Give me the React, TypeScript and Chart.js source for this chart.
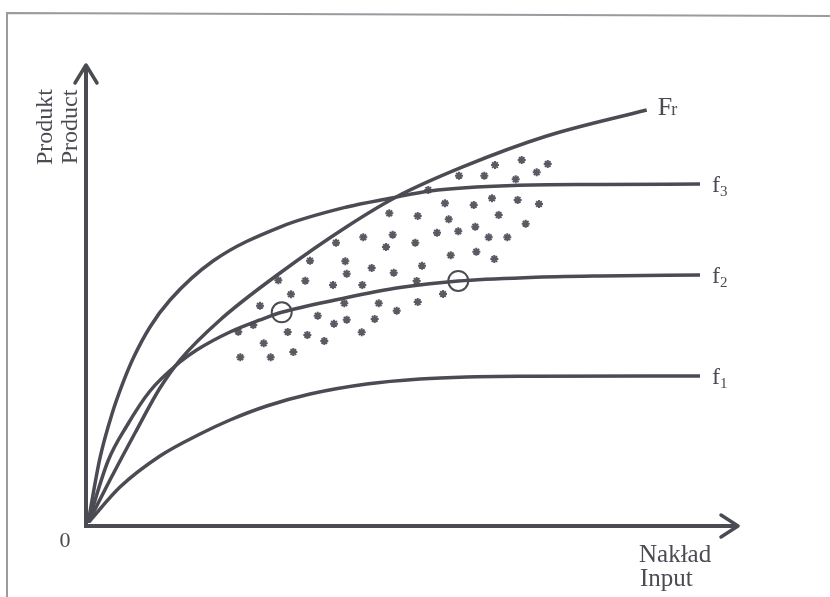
import React, { useEffect, useRef } from "react";
import { Chart, registerables } from "chart.js";

Chart.register(...registerables);

// Axis ranges (abstract units: input on x, product on y)
const X_MAX = 100;
const Y_MAX = 100;

// Production curves (input, product)
const f1X = [0, 4.91, 11.04, 17.18, 21.78, 27.41, 34.05, 42.75, 50.92, 58.08, 67.79, 93.87];
const f1Y = [0, 7.91, 14.73, 19.56, 22.64, 25.71, 28.35, 30.55, 31.65, 32.09, 32.24, 32.31];

const f2X = [0, 3.07, 5.94, 9.51, 14.11, 16.67, 21.78, 26.38, 29.71, 38.65, 47.85, 56.79, 67.79, 78.53, 93.87];
const f2Y = [0, 13.63, 21.32, 29.01, 35.38, 38.02, 41.98, 44.62, 46.31, 49.23, 51.76, 53.19, 53.96, 54.29, 54.51];

const f3X = [0, 1.84, 3.68, 5.41, 6.95, 9.51, 12.58, 19.17, 29.45, 39.68, 46.32, 52.45, 65.18, 78.53, 93.87];
const f3Y = [0, 14.29, 23.96, 30.99, 36.26, 43.08, 49.01, 57.58, 65.05, 69.45, 71.36, 72.97, 74.18, 74.4, 74.51];

const frX = [0, 3.37, 7.21, 11.04, 14.11, 20.25, 29.45, 39.68, 47.35, 57.56, 70.35, 85.69];
const frY = [0, 9.45, 19.78, 29.67, 35.82, 44.62, 54.95, 65.12, 71.71, 78.31, 85.05, 90.77];

// Observed farms (scatter of stars)
const obsX = [
  66.52, 70.51, 62.42, 68.82, 56.9, 60.78, 65.6, 52.19, 61.96, 65.9, 69.17, 54.75, 59.16,
  46.21, 50.57, 62.99, 55.32, 67.13, 59.4, 56.79, 53.53, 46.73, 42.22, 61.46, 64.31, 38.04,
  50.2, 45.71, 59.56, 55.63, 62.32, 34.05, 39.46, 51.23, 43.51, 39.68, 46.89, 29.19, 33.33,
  50.41, 37.58, 42.07, 31.13, 54.45, 39.31, 44.59, 50.57, 26.38, 47.35, 35.23, 39.68, 43.97,
  37.73, 23.05, 25.35, 30.63, 33.64, 41.98, 36.24, 26.95, 31.49, 23.36, 28.02,
];
const obsY = [
  79.78, 78.9, 78.68, 77.08, 76.33, 76.33, 75.54, 73.19, 71.36, 70.99, 70.11, 70.26, 69.89,
  68.07, 67.47, 67.69, 66.75, 65.78, 65.12, 64.11, 63.8, 63.36, 62.79, 62.79, 62.79, 61.6,
  61.6, 60.66, 59.63, 58.84, 58.02, 57.65, 57.52, 56.55, 56.04, 54.79, 55.01, 53.34, 53.25,
  53.19, 52.31, 52.31, 50.26, 50.33, 48.29, 48.29, 48.57, 47.76, 46.66, 45.56, 44.68, 44.84,
  43.8, 42.04, 43.52, 41.98, 41.32, 41.91, 40.0, 39.49, 37.58, 36.42, 36.42,
];

// Highlighted points on f2
const markX = [29.71, 56.79];
const markY = [46.31, 53.19];

// Text
const curveLabels = ["f", "f", "f"];
const curveSubs = ["3", "2", "1"];
const frameLabel = ["F", "r"];
const yTitle = ["Produkt", "Product"];
const xTitle = ["Nakład", "Input"];
const originLabel = "0";

const INK = "#4b4b53";
const SERIF = "'Liberation Serif', 'DejaVu Serif', serif";

const zip = (xs: number[], ys: number[]) => xs.map((x, i) => ({ x, y: ys[i] }));

const lineDs = (xs: number[], ys: number[]) => ({
  data: zip(xs, ys),
  showLine: true,
  borderColor: INK,
  borderWidth: 3.5,
  pointRadius: 0,
  pointHoverRadius: 0,
  cubicInterpolationMode: "monotone" as const,
  fill: false,
});

const decorPlugin = {
  id: "decor",
  beforeDraw(chart: any) {
    const { ctx, width, height } = chart;
    ctx.save();
    ctx.fillStyle = "#ffffff";
    ctx.fillRect(0, 0, width, height);
    // scan frame
    ctx.strokeStyle = "#9a9aa0";
    ctx.lineWidth = 2;
    ctx.beginPath();
    ctx.moveTo(7, height);
    ctx.lineTo(7, 13);
    ctx.lineTo(width, 16);
    ctx.stroke();
    ctx.restore();
  },
  afterDraw(chart: any) {
    const { ctx, chartArea } = chart;
    const xs = chart.scales.x;
    const ys = chart.scales.y;
    const ox = xs.getPixelForValue(0) - 2;
    const oy = ys.getPixelForValue(0) + 3;
    const xTip = chartArea.right - 2;
    const yTip = chartArea.top - 3;
    ctx.save();
    ctx.strokeStyle = INK;
    ctx.lineWidth = 4;
    ctx.lineCap = "butt";
    ctx.beginPath();
    ctx.moveTo(ox - 2, oy);
    ctx.lineTo(xTip, oy);
    ctx.moveTo(ox, oy + 2);
    ctx.lineTo(ox, yTip);
    ctx.stroke();
    // arrowheads
    ctx.lineWidth = 3.5;
    ctx.lineCap = "round";
    ctx.lineJoin = "round";
    ctx.beginPath();
    ctx.moveTo(xTip - 17, oy - 11);
    ctx.lineTo(xTip, oy);
    ctx.lineTo(xTip - 17, oy + 11);
    ctx.moveTo(ox - 11, yTip + 18);
    ctx.lineTo(ox, yTip);
    ctx.lineTo(ox + 11, yTip + 18);
    ctx.stroke();

    ctx.fillStyle = INK;
    // origin
    ctx.font = `22px ${SERIF}`;
    ctx.textAlign = "center";
    ctx.textBaseline = "alphabetic";
    ctx.fillText(originLabel, ox - 21, oy + 21);

    // x title
    ctx.font = `25px ${SERIF}`;
    ctx.textAlign = "left";
    ctx.fillText(xTitle[0], 639, 562);
    ctx.fillText(xTitle[1], 640, 586);

    // y title (rotated)
    ctx.font = `24px ${SERIF}`;
    ctx.textAlign = "center";
    ctx.save();
    ctx.translate(52, 127);
    ctx.rotate(-Math.PI / 2);
    ctx.fillText(yTitle[0], 0, 0);
    ctx.restore();
    ctx.save();
    ctx.translate(77, 127);
    ctx.rotate(-Math.PI / 2);
    ctx.fillText(yTitle[1], 0, 0);
    ctx.restore();

    // curve labels
    ctx.textAlign = "left";
    const ends = [
      [f3X[f3X.length - 1], f3Y[f3Y.length - 1]],
      [f2X[f2X.length - 1], f2Y[f2Y.length - 1]],
      [f1X[f1X.length - 1], f1Y[f1Y.length - 1]],
    ];
    ends.forEach(([vx, vy], i) => {
      const px = xs.getPixelForValue(vx) + 12;
      const py = ys.getPixelForValue(vy);
      ctx.font = `24px ${SERIF}`;
      ctx.fillText(curveLabels[i], px, py + 8);
      ctx.font = `15px ${SERIF}`;
      ctx.fillText(curveSubs[i], px + 8, py + 12);
    });
    const fx = xs.getPixelForValue(frX[frX.length - 1]) + 11;
    const fy = ys.getPixelForValue(frY[frY.length - 1]) + 5;
    ctx.font = `26px ${SERIF}`;
    ctx.fillText(frameLabel[0], fx, fy);
    const fw = ctx.measureText(frameLabel[0]).width;
    ctx.font = `18px ${SERIF}`;
    ctx.fillText(frameLabel[1], fx + fw - 1, fy);
    ctx.restore();
  },
};

export default function App() {
  const ref = useRef<HTMLCanvasElement | null>(null);
  useEffect(() => {
    document.body.style.margin = "0";
    const canvas = ref.current;
    if (!canvas) return;
    const chart = new Chart(canvas, {
      type: "scatter",
      data: {
        datasets: [
          lineDs(frX, frY),
          lineDs(f3X, f3Y),
          lineDs(f2X, f2Y),
          lineDs(f1X, f1Y),
          {
            data: zip(obsX, obsY),
            showLine: false,
            pointStyle: "star",
            pointRadius: 4,
            borderWidth: 2,
            borderColor: "#5a5a62",
            backgroundColor: "#5a5a62",
          },
          {
            data: zip(markX, markY),
            showLine: false,
            pointStyle: "circle",
            pointRadius: 10,
            borderWidth: 2,
            borderColor: INK,
            backgroundColor: "rgba(0,0,0,0)",
          },
        ] as any,
      },
      options: {
        animation: false,
        responsive: false,
        maintainAspectRatio: false,
        events: [],
        layout: { padding: { left: 88, right: 90, top: 68, bottom: 74 } },
        plugins: { legend: { display: false }, tooltip: { enabled: false }, title: { display: false } },
        scales: {
          x: { type: "linear", min: 0, max: X_MAX, display: false },
          y: { type: "linear", min: 0, max: Y_MAX, display: false },
        },
      },
      plugins: [decorPlugin],
    });
    return () => chart.destroy();
  }, []);
  return <canvas ref={ref} width={830} height={597} style={{ display: "block" }} />;
}
